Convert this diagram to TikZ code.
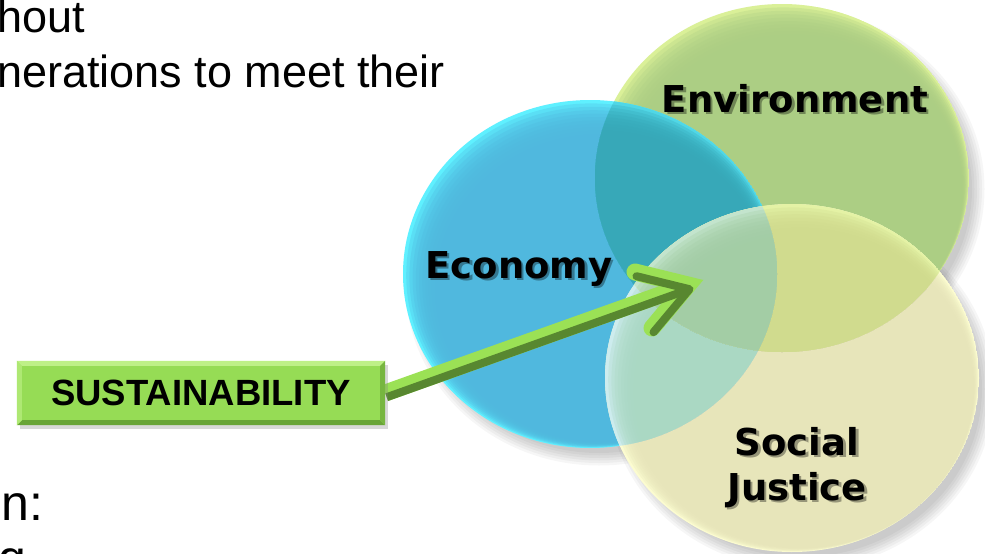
\documentclass[tikz,border=0pt]{standalone}
\usepackage{fontspec}
\setmainfont{Liberation Sans}
\newfontfamily\labelfont{DejaVu Sans}
\usetikzlibrary{calc}
\usetikzlibrary{shadows}
\definecolor{econblue}{RGB}{80,184,222}
\definecolor{econrim}{RGB}{95,240,255}
\definecolor{envgreen}{RGB}{172,206,132}
\definecolor{envrim}{RGB}{218,240,152}
\definecolor{socyellow}{RGB}{231,229,186}
\definecolor{socrim}{RGB}{252,252,208}
\definecolor{econenv}{RGB}{55,168,184}
\definecolor{econenvrim}{RGB}{80,215,230}
\definecolor{econsoc}{RGB}{170,216,195}
\definecolor{econsocrim}{RGB}{205,236,238}
\definecolor{envsoc}{RGB}{208,219,142}
\definecolor{envsocrim}{RGB}{228,242,165}
\definecolor{allthree}{RGB}{163,205,165}
\definecolor{allrim}{RGB}{195,228,205}
\definecolor{boxgreen}{RGB}{150,220,85}
\definecolor{boxlight}{RGB}{190,240,135}
\definecolor{boxdark}{RGB}{105,165,55}
\definecolor{arrowlight}{RGB}{155,225,85}
\definecolor{arrowdark}{RGB}{88,135,48}
\pgfdeclarelayer{front}
\pgfsetlayers{main,front}
\tikzset{
	slidetext/.style={
		anchor=base west,
		inner sep=0,
		font=\fontsize{45}{55}\selectfont,
	},
	circlabel/.style={
		anchor=base,
		inner sep=0,
		align=center,
		font=\labelfont\bfseries\fontsize{37}{45}\selectfont,
	},
	labelshadow/.style={
		circlabel,
		xshift=2.5,
		yshift=-2.5,
		text=black,
		text opacity=.35,
	},
	sustbox/.style={
		fill=boxgreen,
		minimum width=368,
		minimum height=64,
		inner sep=0,
		font=\bfseries\fontsize{36.5}{40}\selectfont,
		drop shadow={shadow xshift=3pt,shadow yshift=-4pt,opacity=.3},
	},
	arrowlit/.style={
		line width=17,
		draw=arrowlight,
		line cap=round,
		line join=miter,
	},
	arrowshade/.style={
		line width=8,
		draw=arrowdark,
		line cap=round,
		line join=round,
	}
}
% disc with a light rim towards the upper left
\newcommand\softdisc[3]{%
	\begin{scope}
		\clip (#1) ellipse (187 and 174);
		\fill[#2] (#1) ellipse (187 and 174);
		\foreach \k in {1,...,10}
			\fill[#3,fill opacity=.3] ($(#1)+(1.2*\k,1.4*\k)$) ellipse ({187-2*\k} and {174-2*\k});
	\end{scope}}

\begin{document}
\begin{tikzpicture}[x=1pt,y=-1pt]
	\useasboundingbox (0,0) rectangle (985,554);
	\clip (0,0) rectangle (985,554);
	\fill[white] (0,0) rectangle (985,554);
	
	% slide text
	\node[slidetext] (hout) at (-3,32) {hout};
	\node[slidetext] (gen) at (-3,87) {nerations to meet their};
	\node[slidetext,font=\fontsize{50}{55}\selectfont] (colon) at (1,520) {n:};
	\node[slidetext,font=\fontsize{50}{55}\selectfont] (next) at (-2,575) {g};
	
	% circle centres
	\coordinate (env) at (782,178);
	\coordinate (econ) at (590,274);
	\coordinate (soc) at (792,378);
	
	% soft shadows
	\foreach \c in {env,econ,soc}
		\foreach \k in {0,...,5}
			\fill[black,fill opacity=.035] ($(\c)+(9,11)$) ellipse ({181+2.5*\k} and {168+2.5*\k});
	
	\softdisc{env}{envrim}{envgreen}
	\softdisc{econ}{econrim}{econblue}
	\begin{scope}
		\clip (env) ellipse (187 and 174);
		\softdisc{econ}{econenvrim}{econenv}
	\end{scope}
	\softdisc{soc}{socrim}{socyellow}
	\begin{scope}
		\clip (econ) ellipse (187 and 174);
		\softdisc{soc}{econsocrim}{econsoc}
	\end{scope}
	\begin{scope}
		\clip (env) ellipse (187 and 174);
		\softdisc{soc}{envsocrim}{envsoc}
	\end{scope}
	\begin{scope}
		\clip (env) ellipse (187 and 174);
		\clip (econ) ellipse (187 and 174);
		\softdisc{soc}{allrim}{allthree}
	\end{scope}
	
	% labels
	\node[labelshadow] (envshade) at (795,112) {Environment};
	\node[circlabel] (envlabel) at (795,112) {Environment};
	\node[labelshadow] (econshade) at (519,278) {Economy};
	\node[circlabel] (econlabel) at (519,278) {Economy};
	\node[labelshadow] (socshade) at (797,500) {Social\\Justice};
	\node[circlabel] (soclabel) at (797,500) {Social\\Justice};
	
	% box
	\begin{pgfonlayer}{front}
		\node[sustbox] (sust) at (201,393) {SUSTAINABILITY};
		\fill[boxlight] (sust.north west) -- (sust.north east) -- ($(sust.north east)+(-5,5)$) -- ($(sust.north west)+(5,5)$) -- cycle;
		\fill[boxdark] (sust.south west) -- (sust.south east) -- ($(sust.south east)+(-5,-5)$) -- ($(sust.south west)+(5,-5)$) -- cycle;
		\fill[boxdark!70!boxgreen] (sust.north east) -- (sust.south east) -- ($(sust.south east)+(-5,-5)$) -- ($(sust.north east)+(-5,5)$) -- cycle;
		\fill[boxlight!60!boxgreen] (sust.north west) -- (sust.south west) -- ($(sust.south west)+(5,-5)$) -- ($(sust.north west)+(5,5)$) -- cycle;
	\end{pgfonlayer}
	
	% arrow
	\coordinate (tip) at (688,285);
	\coordinate (barbhi) at (635,272);
	\coordinate (barblo) at (652,328);
	\draw[arrowlit,line cap=butt] (sust.east) -- (tip);
	\draw[arrowlit] (barbhi) -- (tip) -- (barblo);
	\draw[arrowshade,line cap=butt] ([shift={(1.5,4.2)}]sust.east) -- ([shift={(1.5,4.2)}]tip);
	\draw[arrowshade] ([shift={(1.5,4.2)}]barbhi) -- ([shift={(1.5,4.2)}]tip) -- ([shift={(1.5,4.2)}]barblo);
	
\end{tikzpicture}
\end{document}
